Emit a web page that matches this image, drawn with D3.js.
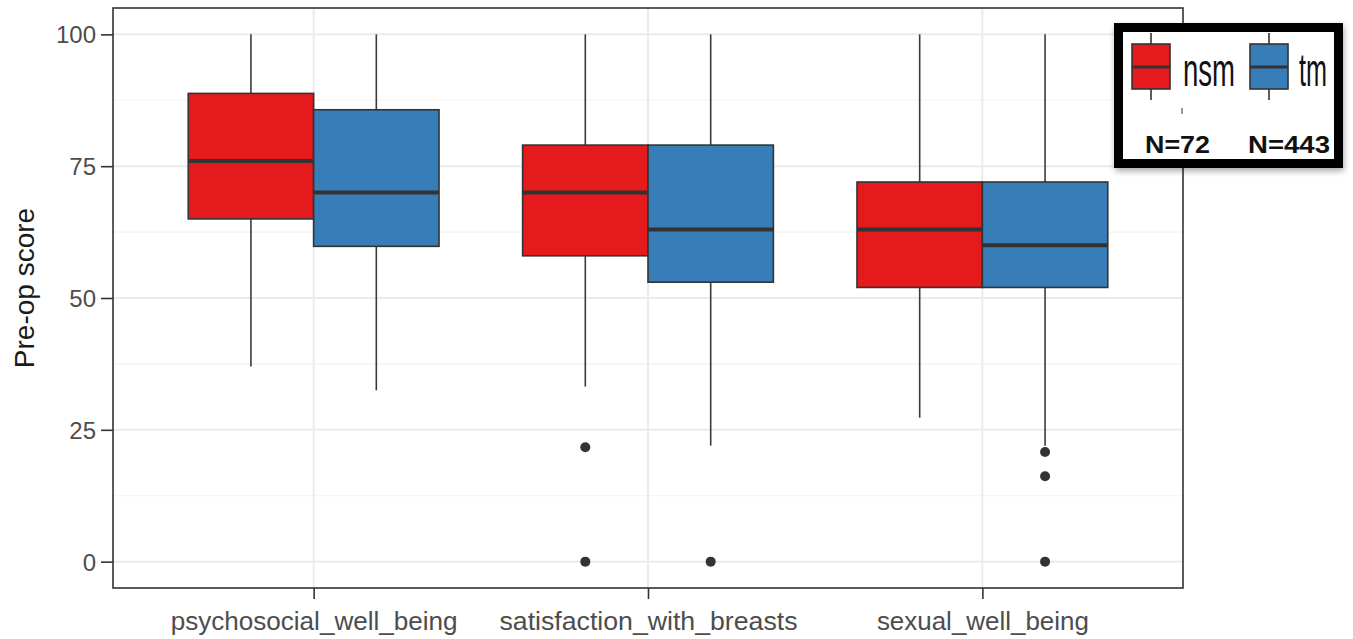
<!DOCTYPE html>
<html>
<head>
<meta charset="utf-8">
<script src="https://cdn.jsdelivr.net/npm/d3@7"></script>
<style>
  html, body { margin: 0; padding: 0; background: #fff; }
  svg { display: block; font-family: "Liberation Sans", Arial, sans-serif; }
</style>
</head>
<body>
<svg id="chart" width="1353" height="639"></svg>
<script>
// ---- data ----
const categories = ["psychosocial_well_being", "satisfaction_with_breasts", "sexual_well_being"];
const groups = ["nsm", "tm"];
const groupColors = ["#E41A1C", "#377EB8"];
const groupN = ["N=72", "N=443"];
const yTicks = [0, 25, 50, 75, 100];
const yMinor = [12.5, 37.5, 62.5, 87.5];

// nsm
const nsmLow  = [37.0, 33.2, 27.3];
const nsmQ1   = [65.0, 58.0, 52.0];
const nsmMed  = [76.0, 70.0, 63.0];
const nsmQ3   = [88.8, 79.0, 72.0];
const nsmHigh = [100, 100, 100];
const nsmOut  = [[], [21.7, 0], []];
// tm
const tmLow  = [32.5, 22.0, 22.0];
const tmQ1   = [59.8, 53.0, 52.0];
const tmMed  = [70.0, 63.0, 60.0];
const tmQ3   = [85.7, 79.0, 72.0];
const tmHigh = [100, 100, 100];
const tmOut  = [[], [0], [20.8, 16.2, 0]];

const stats = [
  {low: nsmLow, q1: nsmQ1, med: nsmMed, q3: nsmQ3, high: nsmHigh, out: nsmOut},
  {low: tmLow, q1: tmQ1, med: tmMed, q3: tmQ3, high: tmHigh, out: tmOut}
];

// ---- layout ----
const svg = d3.select("#chart");
const panel = {left: 113, right: 1183, top: 8, bottom: 588};

const y = d3.scaleLinear().domain([-5, 105]).range([panel.bottom, panel.top]);
const x = d3.scalePoint().domain(categories).range([panel.left, panel.right]).padding(0.6);
const step = x.step();
const boxW = 0.75 * step / groups.length;

// grid
const g = svg.append("g");
g.selectAll(".minor").data(yMinor).enter().append("line")
  .attr("x1", panel.left).attr("x2", panel.right)
  .attr("y1", d => y(d)).attr("y2", d => y(d))
  .attr("stroke", "#f2f2f2").attr("stroke-width", 1.2);
g.selectAll(".major").data(yTicks).enter().append("line")
  .attr("x1", panel.left).attr("x2", panel.right)
  .attr("y1", d => y(d)).attr("y2", d => y(d))
  .attr("stroke", "#ebebeb").attr("stroke-width", 2);
g.selectAll(".vmajor").data(categories).enter().append("line")
  .attr("x1", d => x(d)).attr("x2", d => x(d))
  .attr("y1", panel.top).attr("y2", panel.bottom)
  .attr("stroke", "#ebebeb").attr("stroke-width", 2);

// boxes
groups.forEach((grp, gi) => {
  const s = stats[gi];
  categories.forEach((cat, ci) => {
    const cx = x(cat) + (gi - (groups.length - 1) / 2) * boxW;
    const bg = svg.append("g");
    bg.append("line").attr("x1", cx).attr("x2", cx)
      .attr("y1", y(s.q3[ci])).attr("y2", y(s.high[ci]))
      .attr("stroke", "#3a3a3a").attr("stroke-width", 1.6);
    bg.append("line").attr("x1", cx).attr("x2", cx)
      .attr("y1", y(s.q1[ci])).attr("y2", y(s.low[ci]))
      .attr("stroke", "#3a3a3a").attr("stroke-width", 1.6);
    bg.append("rect")
      .attr("x", cx - boxW / 2).attr("width", boxW)
      .attr("y", y(s.q3[ci])).attr("height", y(s.q1[ci]) - y(s.q3[ci]))
      .attr("fill", groupColors[gi]).attr("stroke", "#333").attr("stroke-width", 1.6);
    bg.append("line").attr("x1", cx - boxW / 2).attr("x2", cx + boxW / 2)
      .attr("y1", y(s.med[ci])).attr("y2", y(s.med[ci]))
      .attr("stroke", "#333").attr("stroke-width", 4);
    bg.selectAll("circle").data(s.out[ci]).enter().append("circle")
      .attr("cx", cx).attr("cy", d => y(d)).attr("r", 5).attr("fill", "#333");
  });
});

// panel border
svg.append("rect")
  .attr("x", panel.left).attr("y", panel.top)
  .attr("width", panel.right - panel.left).attr("height", panel.bottom - panel.top)
  .attr("fill", "none").attr("stroke", "#333").attr("stroke-width", 1.6);

// y axis
const yAxis = svg.append("g").attr("transform", `translate(${panel.left},0)`)
  .call(d3.axisLeft(y).tickValues(yTicks).tickSize(12).tickPadding(5).tickFormat(d3.format("d")));
yAxis.select(".domain").remove();
yAxis.selectAll(".tick line").attr("stroke", "#333").attr("stroke-width", 1.6);
yAxis.selectAll(".tick text").attr("fill", "#4d4d4d").style("font-size", "24px")
  .style("font-family", "'Liberation Sans', Arial, sans-serif").attr("dy", "0.35em");

// x axis
const xAxis = svg.append("g").attr("transform", `translate(0,${panel.bottom})`)
  .call(d3.axisBottom(x).tickSize(11).tickPadding(13));
xAxis.select(".domain").remove();
xAxis.selectAll(".tick line").attr("stroke", "#333").attr("stroke-width", 1.6);
const xLabelW = [287, 298, 212];
xAxis.selectAll(".tick text").attr("fill", "#4d4d4d").style("font-size", "25px")
  .style("font-family", "'Liberation Sans', Arial, sans-serif")
  .attr("dy", "0.71em")
  .attr("textLength", (d, i) => xLabelW[i]).attr("lengthAdjust", "spacingAndGlyphs");

// y title
svg.append("text")
  .attr("transform", "translate(34,288) rotate(-90)")
  .attr("text-anchor", "middle")
  .attr("fill", "#1a1a1a")
  .style("font-size", "28px")
  .text("Pre-op score");

// legend
const defs = svg.append("defs");
const f = defs.append("filter").attr("id", "sh").attr("x", "-10%").attr("y", "-10%").attr("width", "120%").attr("height", "130%");
f.append("feGaussianBlur").attr("in", "SourceAlpha").attr("stdDeviation", 3);
f.append("feOffset").attr("dx", 1).attr("dy", 3).attr("result", "b");
f.append("feComponentTransfer").append("feFuncA").attr("type", "linear").attr("slope", 0.35);
const mg = f.append("feMerge");
mg.append("feMergeNode");
mg.append("feMergeNode").attr("in", "SourceGraphic");

const leg = svg.append("g");
leg.append("rect")
  .attr("x", 1118.5).attr("y", 27.5).attr("width", 220).attr("height", 136)
  .attr("fill", "#fff").attr("stroke", "#000").attr("stroke-width", 9)
  .attr("filter", "url(#sh)");

const keyX = [1132, 1250];
const keyW = 38;
const labelX = [1183, 1299];
const labelW = [52, 28];
const nX = [1145, 1248];
const nW = [65, 82];
groups.forEach((grp, gi) => {
  const kx = keyX[gi];
  leg.append("line").attr("x1", kx + keyW / 2).attr("x2", kx + keyW / 2)
    .attr("y1", 33).attr("y2", 100).attr("stroke", "#333").attr("stroke-width", 1.6);
  leg.append("rect").attr("x", kx).attr("y", 44).attr("width", keyW).attr("height", 45)
    .attr("fill", groupColors[gi]).attr("stroke", "#333").attr("stroke-width", 1.6);
  leg.append("line").attr("x1", kx).attr("x2", kx + keyW)
    .attr("y1", 67).attr("y2", 67).attr("stroke", "#333").attr("stroke-width", 3);
  leg.append("text").attr("x", labelX[gi]).attr("y", 86)
    .attr("fill", "#111").style("font-size", "46px")
    .attr("textLength", labelW[gi]).attr("lengthAdjust", "spacingAndGlyphs")
    .text(grp);
  leg.append("text").attr("x", nX[gi]).attr("y", 153)
    .attr("fill", "#111").style("font-size", "24px").style("font-weight", "bold")
    .attr("textLength", nW[gi]).attr("lengthAdjust", "spacingAndGlyphs")
    .text(groupN[gi]);
});
leg.append("line").attr("x1", 1182).attr("x2", 1182).attr("y1", 108).attr("y2", 114)
  .attr("stroke", "#777").attr("stroke-width", 1.5);
</script>
</body>
</html>
